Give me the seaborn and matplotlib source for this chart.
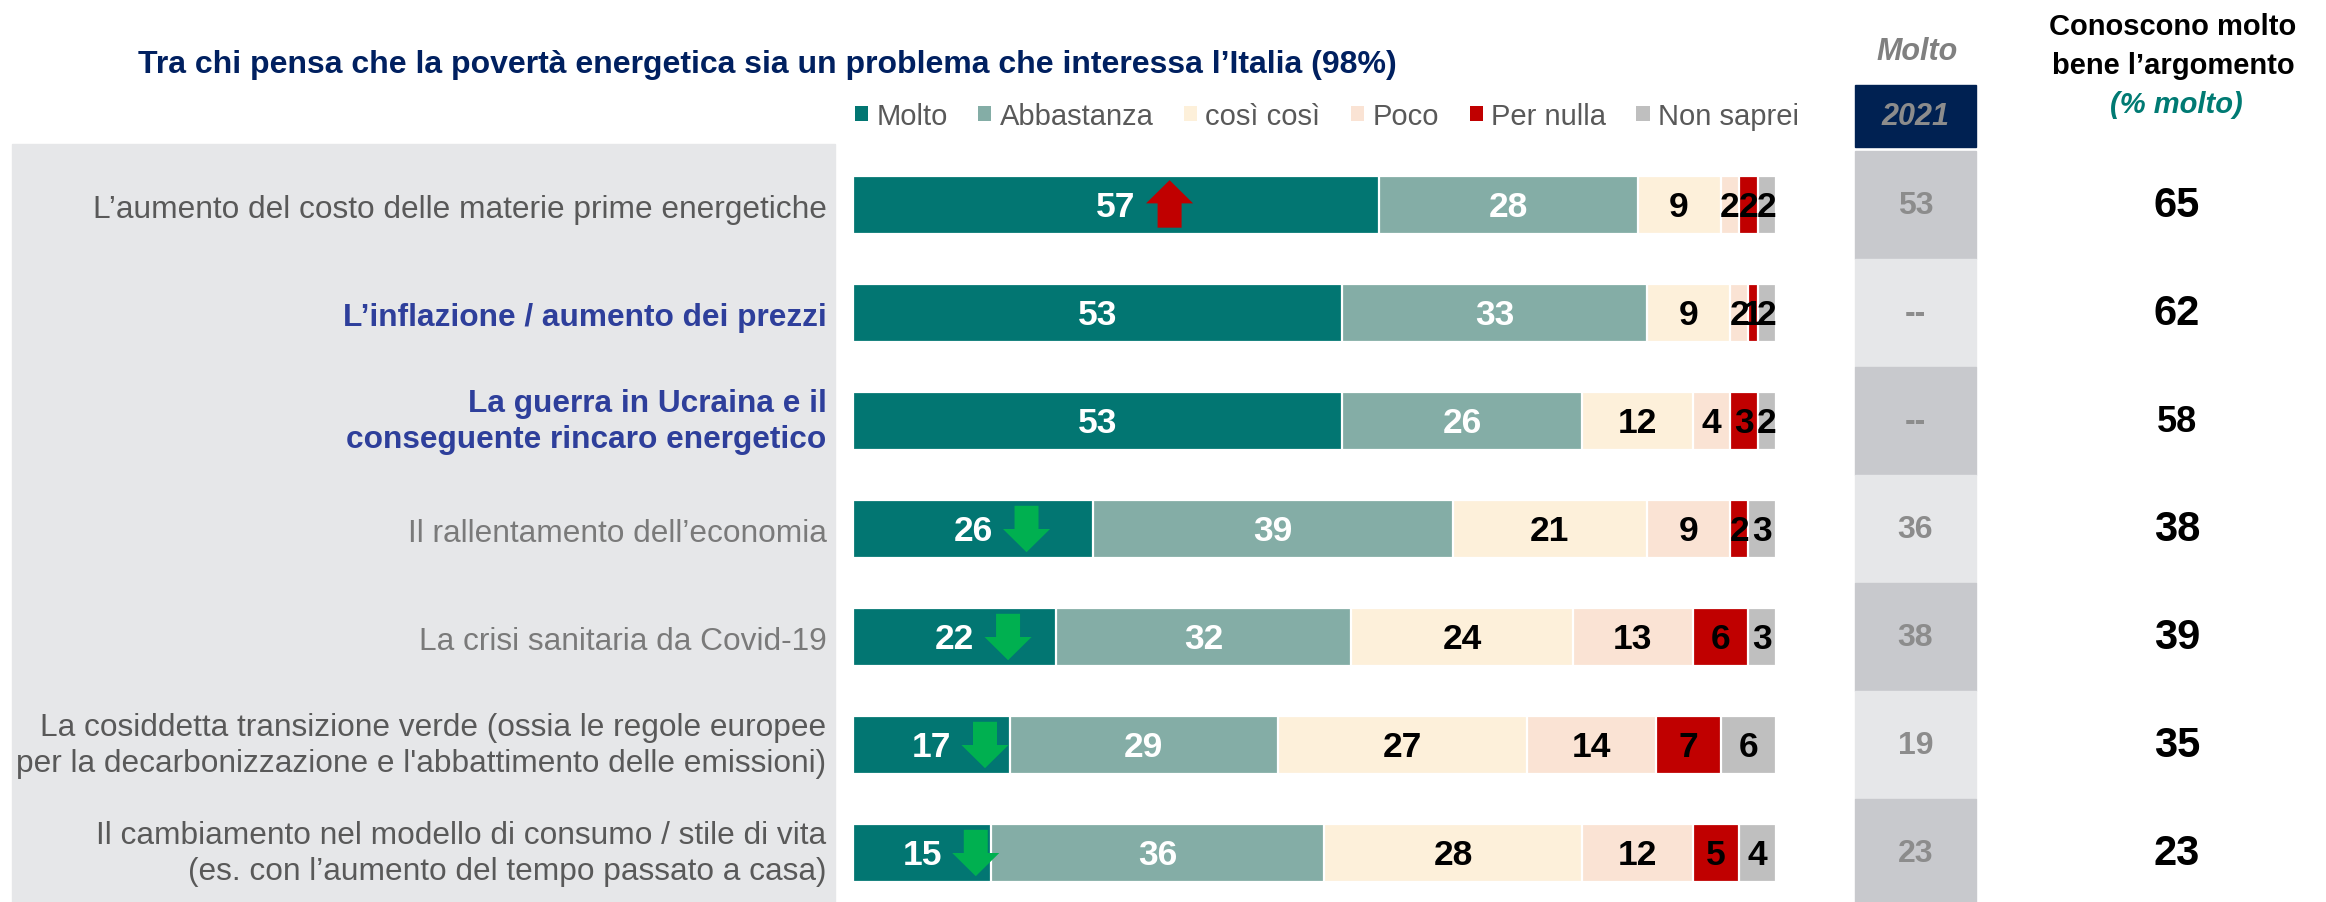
import numpy as np
import matplotlib
matplotlib.use("Agg")
import matplotlib.pyplot as plt
import matplotlib.transforms as mtransforms
from matplotlib.patches import Rectangle, FancyArrow, Patch
import seaborn as sns

# ---------------- data ----------------
categories = [
    "L’aumento del costo delle materie prime energetiche",
    "L’inflazione / aumento dei prezzi",
    "La guerra in Ucraina e il\nconseguente rincaro energetico",
    "Il rallentamento dell’economia",
    "La crisi sanitaria da Covid-19",
    "La cosiddetta transizione verde (ossia le regole europee\nper la decarbonizzazione e l'abbattimento delle emissioni)",
    "Il cambiamento nel modello di consumo / stile di vita\n(es. con l’aumento del tempo passato a casa)",
]
series_names = ["Molto", "Abbastanza", "così così", "Poco", "Per nulla", "Non saprei"]
molto = [57, 53, 53, 26, 22, 17, 15]
abbastanza = [28, 33, 26, 39, 32, 29, 36]
cosi_cosi = [9, 9, 12, 21, 24, 27, 28]
poco = [2, 2, 4, 9, 13, 14, 12]
per_nulla = [2, 1, 3, 2, 6, 7, 5]
non_saprei = [2, 2, 2, 3, 3, 6, 4]
molto_2021 = ["53", "--", "--", "36", "38", "19", "23"]
conoscono_molto = [65, 62, 58, 38, 39, 35, 23]
trend = ["up", None, None, "down", "down", "down", "down"]

title = "Tra chi pensa che la povertà energetica sia un problema che interessa l’Italia (98%)"

# ---------------- style ----------------
seg_colors = ["#027672", "#84ADA6", "#FDF0DA", "#FAE3D4", "#C00000", "#BFBFBF"]
seg_text = ["white", "white", "black", "black", "black", "black"]
label_colors = ["#595959", "#2E3F9B", "#2E3F9B", "#7A7A7A", "#7A7A7A", "#595959", "#595959"]
label_weights = ["normal", "bold", "bold", "normal", "normal", "normal", "normal"]

sns.set_style("white")
plt.rcParams["font.family"] = ["Liberation Sans", "DejaVu Sans"]

W, H = 2326, 903
fig = plt.figure(figsize=(W / 100, H / 100), dpi=100)

def fx(px):
    return px / W

def fy(py):
    return 1 - py / H

# gray panel behind category labels
fig.patches.append(Rectangle((fx(12), fy(903)), fx(835) - fx(12), fy(145) - fy(903),
                             transform=fig.transFigure, color="#E6E7E9", zorder=-5))

# main bar axes: x 0..100 -> 853..1776 px, rows centred at 206 + 108*i
ax = fig.add_axes([fx(853), fy(908), (1776 - 853) / W, (908 - 152) / H])
ax.set_facecolor("none")

values = np.array([molto, abbastanza, cosi_cosi, poco, per_nulla, non_saprei], dtype=float)
cum = np.cumsum(values, axis=0)

for k in reversed(range(len(series_names))):
    sns.barplot(x=cum[k], y=categories, orient="h", color=seg_colors[k], saturation=1,
                width=0.54, edgecolor="white", linewidth=1.6, errorbar=None, ax=ax)

ax.set_xlim(0, 100)
ax.set_ylim(6.5, -0.5)
ax.set_xlabel("")
ax.set_ylabel("")
ax.set_xticks([])
sns.despine(ax=ax, left=True, bottom=True)
ax.tick_params(axis="y", length=0, pad=19)
lift = mtransforms.ScaledTranslation(0, 7 / 100, fig.dpi_scale_trans)
for i, lbl in enumerate(ax.get_yticklabels()):
    lbl.set_fontsize(22.8)
    lbl.set_color(label_colors[i])
    lbl.set_fontweight(label_weights[i])
    lbl.set_linespacing(1.3)
    if "\n" in categories[i]:
        lbl.set_transform(lbl.get_transform() + lift)

# segment value labels
for k in range(len(series_names)):
    for i in range(len(categories)):
        v = values[k, i]
        cx = cum[k, i] - v / 2
        ax.text(cx, i + 0.01, f"{int(v)}", ha="center", va="center", fontsize=25.5,
                fontweight="bold", color=seg_text[k], zorder=6)

# trend arrows
for i, t in enumerate(trend):
    if t is None:
        continue
    x = molto[i] / 2 + 5.8
    if t == "up":
        arr = FancyArrow(x, i + 0.21, 0, -0.44, width=2.6, head_width=5.1, head_length=0.215,
                         length_includes_head=True, color="#C00000", zorder=7, lw=0)
    else:
        arr = FancyArrow(x, i - 0.215, 0, 0.43, width=2.6, head_width=5.1, head_length=0.215,
                         length_includes_head=True, color="#00B050", zorder=7, lw=0)
    ax.add_patch(arr)

# 2021 column
trans = mtransforms.blended_transform_factory(fig.transFigure, ax.transData)
for i, val in enumerate(molto_2021):
    ax.add_patch(Rectangle((fx(1855), i - 0.5), (1976 - 1855) / W, 1.0, transform=trans,
                           clip_on=False, color="#C8C9CD" if i % 2 == 0 else "#E6E7E9", zorder=0))
    ax.text(fx(1915.5), i, val, transform=trans, ha="center", va="center", fontsize=23,
            fontweight="bold", color="#8C8C8C", clip_on=False)
fig.patches.append(Rectangle((fx(1855), fy(148)), (1976 - 1855) / W, (148 - 86) / H,
                             transform=fig.transFigure, color="#002152", zorder=1))
fig.text(fx(1915.5), fy(117), "2021", ha="center", va="center", fontsize=22,
         fontstyle="italic", fontweight="bold", color="#8C8C8C", zorder=2)
fig.text(fx(1917), fy(52), "Molto", ha="center", va="center", fontsize=22,
         fontstyle="italic", fontweight="bold", color="#808080")

# right column
fig.text(fx(2173), fy(27), "Conoscono molto", ha="center", va="center", fontsize=21,
         fontweight="bold", color="black")
fig.text(fx(2173), fy(66), "bene l’argomento", ha="center", va="center", fontsize=21,
         fontweight="bold", color="black")
fig.text(fx(2176), fy(105), "(% molto)", ha="center", va="center", fontsize=21,
         fontstyle="italic", fontweight="bold", color="#007A73")
for i, v in enumerate(conoscono_molto):
    ax.text(fx(2177), i, str(v), transform=trans, ha="center", va="center",
            fontsize=26 if v == 58 else 30, fontweight="bold", color="black", clip_on=False)

# title
fig.text(fx(767), fy(65), title, ha="center", va="center", fontsize=23,
         fontweight="bold", color="#002060")

# legend
handles = [Patch(facecolor=c, edgecolor="none") for c in seg_colors]
fig.legend(handles, series_names, loc="center left", bbox_to_anchor=(fx(855), fy(117)),
           ncol=6, frameon=False, fontsize=21, handlelength=0.45, handleheight=0.45,
           handletextpad=0.28, columnspacing=1.05, borderpad=0, borderaxespad=0,
           labelcolor="#595959")

fig.savefig("out.png", dpi=100)
